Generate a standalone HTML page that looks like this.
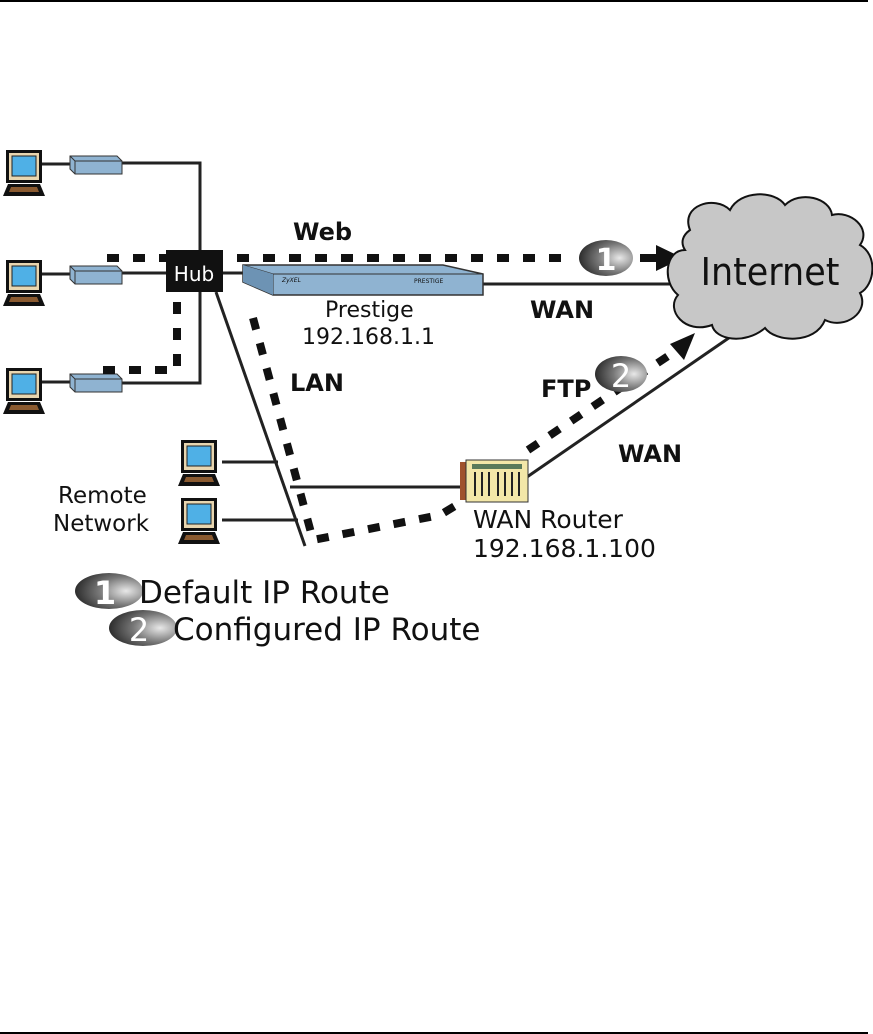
<!DOCTYPE html>
<html><head><meta charset="utf-8"><style>
html,body{margin:0;padding:0;background:#fff;}
svg{display:block;}
text{font-family:"DejaVu Sans","Liberation Sans",sans-serif;fill:#111;}
</style></head><body>
<svg width="873" height="1034" viewBox="0 0 873 1034" xmlns="http://www.w3.org/2000/svg">
<defs>
<g id="lap">
<rect x="3" y="0" width="36" height="33" fill="#111"/>
<rect x="6" y="3" width="30" height="27" fill="#e8d6b0"/>
<rect x="9" y="6" width="24" height="20" fill="#4fb0e6" stroke="#222" stroke-width="1"/>
<polygon points="5,34 37,34 42,46 0,46" fill="#111"/>
<polygon points="8,37 34,37 36,42 6,42" fill="#8a5a30"/>
</g>
<g id="mod">
<polygon points="0,2 47,2 52,7 52,20 5,20 0,15" fill="#8fb3d1" stroke="#333" stroke-width="1"/>
<line x1="0" y1="2" x2="5" y2="7" stroke="#333"/><line x1="5" y1="7" x2="52" y2="7" stroke="#333"/><line x1="5" y1="7" x2="5" y2="20" stroke="#333"/>
</g>
<radialGradient id="ball" cx="0.75" cy="0.5" r="0.8">
<stop offset="0" stop-color="#e8e8e8"/><stop offset="0.5" stop-color="#777"/><stop offset="1" stop-color="#222"/>
</radialGradient>
</defs>
<line x1="0" y1="1" x2="868" y2="1" stroke="#000" stroke-width="2"/>
<line x1="0" y1="1033" x2="868" y2="1033" stroke="#000" stroke-width="2"/>

<g stroke="#222" stroke-width="3" fill="none">
<line x1="38" y1="164" x2="72" y2="164"/><line x1="38" y1="274" x2="72" y2="274"/><line x1="38" y1="382" x2="72" y2="382"/>
<polyline points="122,163 200,163 200,383 122,383"/>
<line x1="122" y1="273" x2="170" y2="273"/>
<line x1="220" y1="273" x2="245" y2="273"/>
<line x1="216" y1="292" x2="305" y2="546"/>
<line x1="483" y1="284" x2="672" y2="284"/>
<line x1="222" y1="462" x2="278" y2="462"/>
<line x1="222" y1="520" x2="298" y2="520"/>
<line x1="290" y1="487" x2="462" y2="487"/>
<line x1="527" y1="477" x2="736" y2="333"/>
</g>
<use href="#lap" x="3" y="150"/><use href="#lap" x="3" y="260"/><use href="#lap" x="3" y="368"/>
<use href="#mod" x="70" y="154"/><use href="#mod" x="70" y="264"/><use href="#mod" x="70" y="372"/>
<use href="#lap" x="178" y="440"/><use href="#lap" x="178" y="498"/>

<g stroke="#111" stroke-width="8" fill="none" stroke-dasharray="12,14">
<line x1="107" y1="258" x2="575" y2="258"/>
<line x1="640" y1="258" x2="656" y2="258" stroke-dasharray="none"/>
<polyline points="177,302 177,370 100,370"/>
<polyline points="253,318 313,540 440,515 460,503"/>
<line x1="528" y1="450" x2="680" y2="348"/>
</g>
<polygon points="656,245 683,258 656,271" fill="#111"/>
<polygon points="695,333 670,344 684,360" fill="#111"/>

<rect x="166" y="250" width="57" height="42" fill="#111"/>
<text x="194" y="281" font-size="20" style="fill:#fff" text-anchor="middle">Hub</text>

<polygon points="243,265 443,265 483,274 483,295 273,295 243,282" fill="#8fb3d1" stroke="#333" stroke-width="1.5"/>
<line x1="273" y1="274" x2="483" y2="274" stroke="#333"/><line x1="243" y1="265" x2="273" y2="274" stroke="#333"/><line x1="273" y1="274" x2="273" y2="295" stroke="#333"/>
<polygon points="243,265 273,274 273,295 243,282" fill="#6d93b4"/>
<text x="282" y="282" font-size="6" font-style="italic" font-family="Liberation Serif">ZyXEL</text>
<text x="414" y="283" font-size="6" font-family="Liberation Serif">PRESTIGE</text>

<path d="M690,230 C680,205 715,195 730,210 C740,190 775,190 785,205 C800,190 830,198 832,215 C850,210 872,228 860,245 C878,255 875,285 860,293 C870,312 845,330 825,320 C815,345 775,342 765,328 C745,345 715,340 712,325 C685,335 665,310 678,295 C662,282 665,250 685,250 C680,242 683,235 690,230 Z" fill="#c7c7c7" stroke="#111" stroke-width="2"/>
<text x="771" y="285" font-size="38" text-anchor="middle" transform="scale(0.92,1) translate(66,0)">Internet</text>

<rect x="460" y="462" width="8" height="38" fill="#a0522d"/>
<rect x="466" y="460" width="62" height="42" fill="#f3e7a8" stroke="#333"/>
<rect x="472" y="464" width="50" height="5" fill="#5a7a5a"/>
<g stroke="#222" stroke-width="2"><line x1="475" y1="472" x2="475" y2="496"/><line x1="482" y1="472" x2="482" y2="496"/><line x1="489" y1="472" x2="489" y2="496"/><line x1="498" y1="472" x2="498" y2="496"/><line x1="505" y1="472" x2="505" y2="496"/><line x1="512" y1="472" x2="512" y2="496"/><line x1="519" y1="472" x2="519" y2="496"/></g>

<ellipse cx="606" cy="258" rx="27" ry="18" fill="url(#ball)"/>
<text x="606" y="270" font-size="30" font-weight="bold" style="fill:#fff" text-anchor="middle">1</text>
<ellipse cx="621" cy="374" rx="26" ry="18" fill="url(#ball)"/>
<text x="621" y="387" font-size="32" style="fill:#fff" text-anchor="middle">2</text>
<ellipse cx="109" cy="591" rx="34" ry="18" fill="url(#ball)"/>
<text x="105" y="604" font-size="32" font-weight="bold" style="fill:#fff" text-anchor="middle">1</text>
<ellipse cx="143" cy="628" rx="34" ry="18" fill="url(#ball)"/>
<text x="139" y="641" font-size="32" style="fill:#fff" text-anchor="middle">2</text>

<g font-weight="bold" font-size="24">
<text x="293" y="240">Web</text>
<text x="530" y="318">WAN</text>
<text x="290" y="391">LAN</text>
<text x="541" y="397">FTP</text>
<text x="618" y="462">WAN</text>
</g>
<g font-size="22">
<text x="325" y="317">Prestige</text>
<text x="302" y="344">192.168.1.1</text>
</g>
<g font-size="25">
<text x="473" y="528">WAN Router</text>
<text x="473" y="557">192.168.1.100</text>
</g>
<g font-size="23">
<text x="58" y="503">Remote</text>
<text x="53" y="531">Network</text>
</g>
<text x="139" y="603" font-size="31">Default IP Route</text>
<text x="173" y="640" font-size="31">Configured IP Route</text>
</svg>
</body></html>
